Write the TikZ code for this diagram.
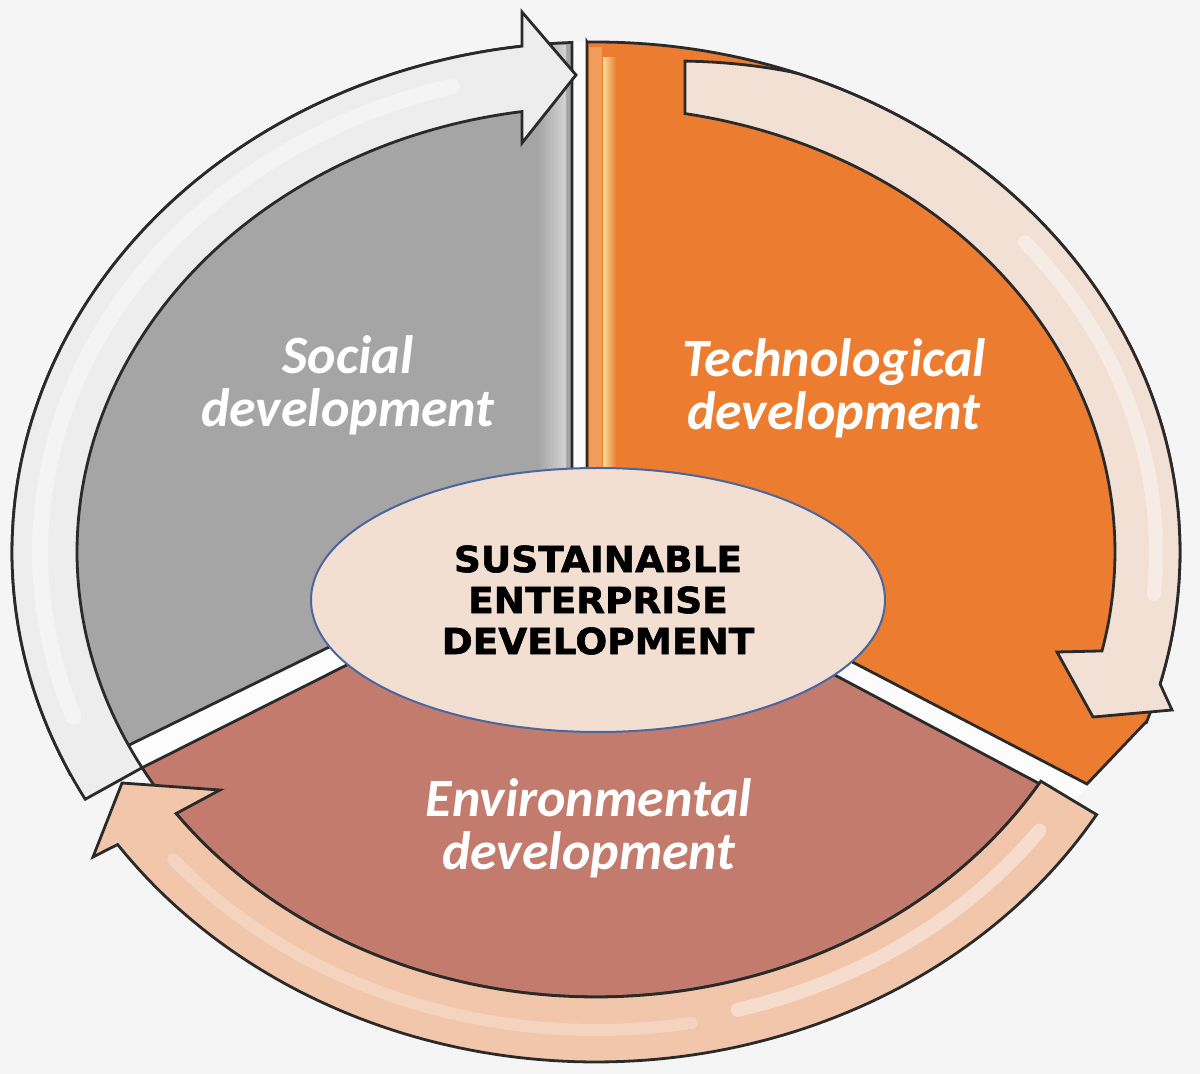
\documentclass[tikz,border=0pt]{standalone}
\usepackage{fontspec}
\usetikzlibrary{shapes.geometric}
\newfontfamily\labelfont{Carlito}
\newfontfamily\heavyfont[FakeStretch=1.04,FakeBold=1.6]{DejaVu Sans}
\definecolor{bgc}{HTML}{F5F5F5}
\definecolor{grayc}{HTML}{A5A5A5}
\definecolor{graylight}{HTML}{D4D4D4}
\definecolor{orangec}{HTML}{EC7C30}
\definecolor{orangelight}{HTML}{F29C5C}
\definecolor{yellowstrip}{HTML}{F7DF9C}
\definecolor{brownc}{HTML}{C27B6D}
\definecolor{ellfill}{HTML}{F3DFD2}
\definecolor{ellblue}{HTML}{4A66A0}
\definecolor{outlinec}{HTML}{2A2A2A}
\definecolor{arrowgray}{HTML}{EDEDED}
\definecolor{arrowtop}{HTML}{F3E0D4}
\definecolor{arrowpeach}{HTML}{F1C6AA}
\definecolor{gapc}{HTML}{FCFCFC}
\tikzset{
  sectorline/.style={draw=outlinec, line width=1.4pt, line join=miter},
  arrowshape/.style={draw=outlinec, line width=1.4pt, line join=miter},
  shine/.style={draw=white, line cap=round, opacity=0.4},
  labeltext/.style={text=white, align=center, inner sep=0pt,
    font=\labelfont\bfseries\itshape\fontsize{27}{26.5}\selectfont},
}
\begin{document}
\begin{tikzpicture}[x=0.5pt,y=-0.5pt]
\useasboundingbox (0,0) rectangle (1200,1074);
\fill[bgc] (0,0) rectangle (1200,1074);

% gaps between the sectors
\fill[gapc] (572,42) rectangle (587,600);
\fill[gapc] (572,528) -- (70,774) -- (83.5,797) -- (572,552.5) -- cycle;
\fill[gapc] (587,524) -- (1090,786) -- (1072,801) -- (587,544) -- cycle;

% gray sector
\draw[sectorline, fill=grayc] (572,42.4) -- (572,528) -- (70,774)
  -- plot[domain=154.3:267.6, samples=90] ({596+584*cos(\x)},{552+510*sin(\x)}) -- cycle;
\fill[left color=grayc, right color=graylight] (538,46) rectangle (566,540);
\draw[outlinec, line width=1.4pt] (572,42.4) -- (572,540);

% orange sector
\draw[sectorline, fill=orangec] (587,42) -- (587,524) -- (1087,784) -- (1146,722)
  -- plot[domain=19.5:-90.88, samples=110] ({596+584*cos(\x)},{552+510*sin(\x)}) -- cycle;
\fill[orangelight] (589,47) rectangle (602,540);
\fill[left color=yellowstrip, right color=orangec] (603,58) rectangle (616,540);
\draw[outlinec, line width=1.4pt] (587,42) -- (587,540);

% brown sector
\draw[sectorline, fill=brownc] (142.1,767.7) -- (588,544) -- (1040,784)
  -- plot[domain=31.4:151, samples=100] ({596+519*cos(\x)},{552+445*sin(\x)}) -- cycle;

% gray arrow (left, pointing to the top)
\draw[arrowshape, fill=arrowgray]
  plot[domain=151:262.72, samples=100] ({596+584*cos(\x)},{552+510*sin(\x)})
  -- (522,12) -- (576,75) -- (522,143)
  -- plot[domain=261.8:151, samples=100] ({596+519*cos(\x)},{552+445*sin(\x)})
  -- cycle;
\draw[shine, line width=8pt] plot[domain=160:255, samples=80] ({596+556*cos(\x)},{552+482*sin(\x)});

% light arrow (top right, pointing down)
\draw[arrowshape, fill=arrowtop]
  plot[domain=278.77:375, samples=100] ({596+584*cos(\x)},{552+(510-13*max(0,(290-\x)/11))*sin(\x)})
  -- (1172,710) -- (1093,717) -- (1057,652)
  -- plot[domain=372.85:279.87, samples=100] ({596+519*cos(\x)},{552+445*sin(\x)})
  -- cycle;
\draw[shine, line width=7pt] plot[domain=320:365, samples=60] ({596+560*cos(\x)},{552+482*sin(\x)});

% peach arrow (bottom, pointing to the left)
\draw[arrowshape, fill=arrowpeach]
  plot[domain=31:145, samples=100] ({596+584*cos(\x)},{552+510*sin(\x)})
  -- (93,857) -- (122,783) -- (220,790)
  -- plot[domain=144:31, samples=100] ({596+519*cos(\x)},{552+445*sin(\x)})
  -- cycle;
\draw[shine, line width=7pt] plot[domain=36:75, samples=60] ({596+548*cos(\x)},{552+474*sin(\x)});
\draw[shine, line width=6pt, opacity=0.25] plot[domain=80:140, samples=60] ({596+552*cos(\x)},{552+478*sin(\x)});

% centre
\node[ellipse, draw=ellblue, line width=1pt, fill=ellfill, minimum width=287pt,
  minimum height=132pt, inner sep=0pt, align=center, text=black,
  font=\heavyfont\bfseries\fontsize{18}{20.5}\selectfont] (core) at (598,600)
  {SUSTAINABLE\\ENTERPRISE\\DEVELOPMENT};

% labels
\node[labeltext] (social) at (348,385) {Social\\development};
\node[labeltext] (techno) at (834,388) {Technological\\development};
\node[labeltext] (enviro) at (589,828) {Environmental\\development};
\end{tikzpicture}
\end{document}
